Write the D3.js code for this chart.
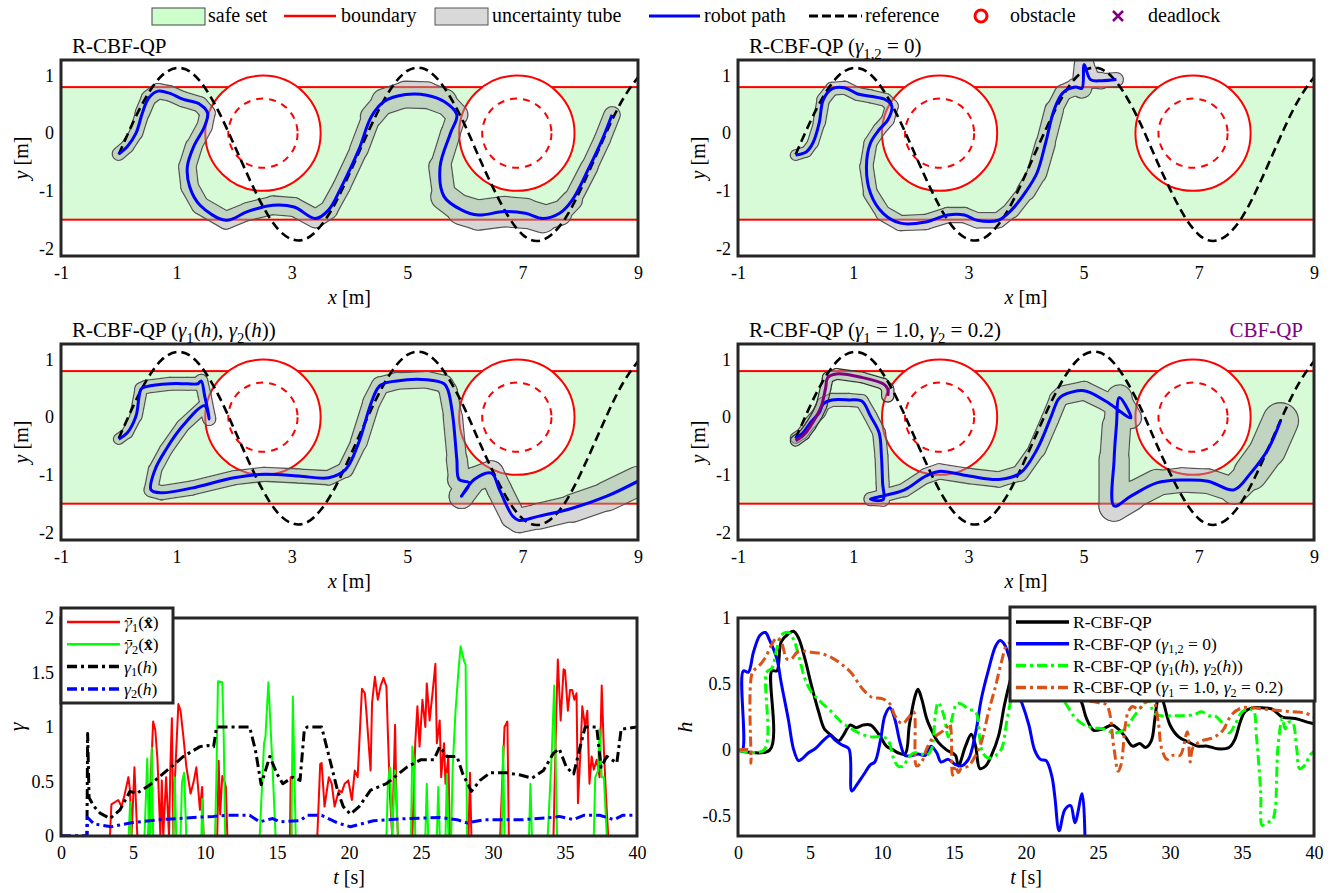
<!DOCTYPE html>
<html><head><meta charset="utf-8">
<script src="https://cdn.jsdelivr.net/npm/d3@7"></script>
<style>body{margin:0;background:#fff}svg{display:block}</style>
</head><body><script>
// ---------------- DATA ----------------
const xTicks = [-1, 1, 3, 5, 7, 9];
const yTicks = [-2, -1, 0, 1];
const tTicks = [0, 5, 10, 15, 20, 25, 30, 35, 40];
const gTicks = [0, 0.5, 1, 1.5, 2];
const hTicks = [-0.5, 0, 0.5, 1];
const safeX = [-1, 9];
const safeY = [-1.5, 0.8];
const obstacles = [[2.5, 0], [6.9, 0]];
const obstacleR = 1.0;
const obstacleInnerR = 0.6;

const refX = [0,0.25,0.5,0.75,1,1.25,1.5,1.75,2,2.25,2.5,2.75,3,3.25,3.5,3.75,4,4.25,4.5,4.75,5,5.25,5.5,5.75,6,6.25,6.5,6.75,7,7.25,7.5,7.75,8,8.25,8.5,8.75,9];
const refY = [-0.37,0.19,0.67,1.0,1.13,1.06,0.78,0.34,-0.2,-0.76,-1.27,-1.65,-1.84,-1.83,-1.61,-1.22,-0.7,-0.14,0.39,0.82,1.08,1.13,0.97,0.62,0.14,-0.43,-0.97,-1.44,-1.76,-1.87,-1.76,-1.46,-0.99,-0.44,0.12,0.61,0.97];

const path1 = [[0,-0.36],[0.15,-0.23],[0.3,0],[0.41,0.35],[0.52,0.61],[0.68,0.73],[0.89,0.69],[1.11,0.59],[1.41,0.5],[1.54,0.35],[1.49,0.12],[1.3,-0.23],[1.19,-0.58],[1.23,-0.93],[1.41,-1.25],[1.86,-1.51],[2.23,-1.36],[2.67,-1.25],[3.04,-1.28],[3.41,-1.48],[3.64,-1.33],[3.86,-0.93],[4.16,-0.29],[4.38,0.29],[4.6,0.55],[4.97,0.67],[5.34,0.66],[5.64,0.55],[5.86,0.32],[5.75,0],[5.57,-0.58],[5.64,-1.1],[5.94,-1.33],[6.23,-1.42],[6.68,-1.36],[7.05,-1.39],[7.35,-1.48],[7.64,-1.39],[7.86,-1.16],[8.16,-0.58],[8.38,-0.11],[8.55,0.32]];
const tube1 = [0.1,0.1,0.1,0.11,0.12,0.12,0.12,0.12,0.12,0.12,0.12,0.13,0.14,0.14,0.14,0.14,0.14,0.15,0.15,0.15,0.14,0.14,0.14,0.16,0.2,0.22,0.22,0.2,0.16,0.15,0.17,0.2,0.24,0.25,0.25,0.25,0.22,0.18,0.15,0.13,0.13,0.13];

const path2 = [[0,-0.38],[0.19,-0.32],[0.3,-0.17],[0.41,0.18],[0.48,0.58],[0.63,0.77],[0.85,0.79],[1.08,0.68],[1.3,0.64],[1.56,0.58],[1.67,0.47],[1.6,0.23],[1.45,0.06],[1.3,-0.17],[1.23,-0.58],[1.3,-1.04],[1.52,-1.39],[1.82,-1.56],[2.26,-1.54],[2.64,-1.42],[2.93,-1.42],[3.15,-1.51],[3.52,-1.51],[3.75,-1.33],[4,-1.01],[4.19,-0.69],[4.34,-0.17],[4.49,0.41],[4.64,0.7],[4.86,0.8],[4.97,0.78],[5.01,1.19],[5.12,0.93],[5.31,0.91],[5.57,0.93]];
const tube2 = [0.08,0.08,0.08,0.09,0.1,0.1,0.1,0.1,0.1,0.1,0.1,0.1,0.1,0.1,0.1,0.11,0.12,0.12,0.12,0.12,0.12,0.12,0.12,0.12,0.14,0.16,0.16,0.14,0.12,0.13,0.16,0.16,0.14,0.12,0.1];

const path3 = [[0,-0.38],[0.15,-0.27],[0.3,0.02],[0.39,0.49],[0.48,0.53],[0.89,0.58],[1.19,0.58],[1.37,0.58],[1.43,0.63],[1.49,0.37],[1.57,-0.03],[1.49,0.2],[1.11,-0.15],[0.82,-0.56],[0.63,-0.91],[0.56,-1.26],[0.74,-1.31],[1.26,-1.23],[2,-1.05],[2.52,-0.99],[3.12,-1.02],[3.64,-1.05],[3.93,-0.91],[4.16,-0.44],[4.38,0.26],[4.53,0.55],[4.82,0.63],[5.34,0.65],[5.64,0.58],[5.71,0.46],[5.79,0.02],[5.86,-0.73],[5.9,-1.08],[6.08,-1.14],[5.94,-1.37],[6.16,-1.08],[6.46,-0.97],[6.6,-1.26],[6.83,-1.72],[6.94,-1.79],[7.27,-1.72],[7.86,-1.58],[8.46,-1.37],[9,-1.11]];
const tube3 = [0.08,0.08,0.09,0.1,0.1,0.1,0.1,0.1,0.1,0.1,0.1,0.1,0.1,0.1,0.1,0.11,0.11,0.11,0.11,0.11,0.11,0.11,0.12,0.13,0.14,0.14,0.13,0.13,0.14,0.14,0.15,0.16,0.18,0.2,0.2,0.2,0.2,0.2,0.2,0.2,0.2,0.22,0.24,0.25];

const path4 = [[0,-0.36],[0.12,-0.28],[0.26,-0.09],[0.41,0.08],[0.48,0.23],[0.63,0.3],[0.93,0.3],[1.15,0.28],[1.3,0.02],[1.45,-0.27],[1.49,-0.67],[1.51,-1.14],[1.52,-1.43],[1.3,-1.42],[1.45,-1.38],[1.89,-1.26],[2.26,-1.02],[2.49,-0.94],[3.01,-1.02],[3.53,-1.08],[3.9,-0.97],[4.19,-0.56],[4.42,-0.03],[4.56,0.31],[4.64,0.38],[5.01,0.46],[5.38,0.28],[5.82,-0.01],[5.62,0.34],[5.57,-0.15],[5.53,-0.73],[5.53,-1.54],[5.82,-1.37],[6.27,-1.14],[6.72,-1.09],[7.16,-1.11],[7.61,-1.26],[7.9,-0.97],[8.2,-0.56],[8.42,-0.06]];
const tube4 = [0.08,0.08,0.09,0.1,0.1,0.1,0.1,0.1,0.1,0.1,0.1,0.1,0.1,0.1,0.1,0.1,0.12,0.12,0.12,0.12,0.12,0.14,0.14,0.14,0.15,0.15,0.15,0.15,0.2,0.22,0.25,0.25,0.25,0.2,0.2,0.2,0.2,0.27,0.3,0.3];

const pathCBF = [[0,-0.41],[0.15,-0.3],[0.26,-0.15],[0.38,0.05],[0.45,0.2],[0.52,0.5],[0.56,0.69],[0.71,0.75],[1.15,0.69],[1.52,0.58],[1.6,0.49],[1.6,0.37]];
const tubeCBF = [0.08,0.08,0.08,0.08,0.08,0.08,0.08,0.08,0.08,0.08,0.09,0.1];

const gam1Bar = [[0,0],[3.4,0],[3.5,0.29],[3.75,0.31],[3.98,0.33],[4.2,0.27],[4.4,0.37],[4.68,0.54],[4.79,0.42],[4.9,0],[5.1,0.63],[5.3,0],[6.06,0],[6.4,1.05],[6.55,0.97],[6.7,0.7],[6.9,0],[7,0.51],[7.1,0],[7.3,0.54],[7.5,0],[7.6,0.66],[7.7,1.08],[7.8,0],[7.9,0.49],[8.15,1.21],[8.3,1.15],[8.5,0.91],[8.7,0.64],[9,0.39],[9.2,0.49],[9.4,0.63],[9.65,0.24],[9.8,0.45],[9.9,0],[10.85,0],[10.95,0.69],[11.05,0.2],[11.2,0.55],[11.35,0.5],[11.45,0.45],[11.55,0],[15.9,0],[15.95,0.54],[16,0],[17.8,0],[18,0.66],[18.1,0.67],[18.3,0.27],[18.6,0.54],[18.8,0.48],[19,0.27],[19.3,0.42],[19.5,0.4],[19.7,0.48],[19.95,0.51],[20.2,0.33],[20.4,0.6],[20.6,0.54],[20.9,1.35],[21.1,1.31],[21.2,1.15],[21.5,0.6],[21.6,1.22],[21.8,1.46],[22,1.25],[22.2,1.38],[22.4,1.45],[22.6,1.37],[22.7,0.94],[22.85,0.36],[23,0],[23.2,1.02],[23.3,0.3],[23.4,0],[24.4,0],[24.6,0.85],[24.75,1.19],[24.9,0.82],[25.1,1.25],[25.3,1],[25.4,1.4],[25.6,1.06],[25.8,1.31],[26,1.58],[26.1,0.85],[26.3,1.06],[26.4,0.54],[26.6,0.85],[26.7,0.48],[26.9,0.73],[27,0],[28.3,0],[28.4,0.58],[28.5,0],[30.5,0],[30.6,0.36],[30.8,1],[31,1.05],[31.1,0],[34.2,0],[34.4,1.15],[34.5,1.62],[34.7,1.06],[34.9,1.53],[35,1.52],[35.2,1.15],[35.35,1.34],[35.5,1.34],[35.65,1.25],[35.8,1.31],[35.9,0.3],[36.1,0.85],[36.2,1.19],[36.4,1],[36.55,1.15],[36.7,0.48],[36.85,0.73],[37,0.61],[37.2,0.7],[37.4,0.54],[37.55,1.38],[37.7,0.79],[37.85,0.36],[38,0],[40,0]];
const gam2Bar = [[0,0],[4.7,0],[4.8,0.31],[4.9,0],[5.8,0],[5.99,0.71],[6.1,0],[6.2,0],[6.3,0.81],[6.4,0],[7.8,0],[7.9,0.54],[8,0],[8.3,0],[8.4,0.49],[8.55,0.58],[8.7,0],[9.75,0],[9.8,0.34],[9.9,0],[10.7,0],[10.8,0.6],[10.9,1.42],[11.2,1.41],[11.3,0.91],[11.4,0],[13.8,0],[13.9,0.29],[14.1,0.85],[14.2,0.91],[14.4,1.41],[14.5,1.15],[14.7,0.6],[14.9,0],[16,0],[16.1,1.28],[16.3,0],[22.6,0],[22.7,0.48],[22.85,0.63],[23,0],[23.2,0.6],[23.4,0],[24.3,0],[24.4,0.82],[24.5,0.7],[24.6,0],[25.3,0],[25.4,0.48],[25.5,0],[26.1,0],[26.2,0.45],[26.3,0],[26.7,0],[26.8,0.57],[26.9,0],[27.1,0],[27.2,0.63],[27.4,1.15],[27.6,1.51],[27.75,1.74],[28,1.6],[28.1,1.57],[28.2,0],[30.6,0],[30.7,0.82],[30.8,0],[32.5,0],[32.6,0.48],[32.7,0],[33.8,0],[34.1,0.82],[34.25,1.38],[34.45,0],[37,0],[37.1,0.54],[37.3,0.6],[37.4,0.98],[37.55,0.54],[37.7,0.54],[37.9,0],[40,0]];
const gam1H = [[0,0],[1.8,0],[1.85,0.94],[1.95,0.35],[2.3,0.27],[2.71,0.21],[3.4,0.16],[4.1,0.24],[4.79,0.41],[5.25,0.39],[6.18,0.47],[7.34,0.6],[8.5,0.73],[9.65,0.82],[10.2,0.83],[10.6,0.82],[10.8,1],[13.1,1],[13.5,0.79],[13.9,0.47],[14.5,0.73],[15,0.57],[15.4,0.48],[16.1,0.54],[16.6,0.51],[16.9,0.98],[17.1,1],[18.1,1],[18.5,0.79],[19.2,0.42],[19.6,0.27],[20.1,0.2],[20.7,0.27],[21.5,0.42],[22.6,0.48],[24,0.63],[25,0.7],[25.9,0.7],[26.3,0.82],[26.8,0.73],[27.5,0.73],[27.9,0.57],[28.5,0.41],[29.1,0.51],[29.8,0.58],[30.9,0.58],[31.9,0.56],[32.7,0.53],[33.5,0.6],[34.2,0.76],[34.6,0.8],[35.1,0.63],[35.6,0.57],[36,0.79],[36.4,1],[37.2,1],[37.5,0.63],[37.9,0.73],[38.6,0.67],[38.9,0.98],[40,1]];
const gam2H = [[0,0],[1.8,0],[1.85,0.17],[2.3,0.11],[3.5,0.085],[4.8,0.12],[6.9,0.15],[9.2,0.17],[10.6,0.18],[11.5,0.19],[13.1,0.19],[13.8,0.13],[14.7,0.16],[15.2,0.13],[16.6,0.14],[17.1,0.19],[18.1,0.19],[19.2,0.12],[20.1,0.085],[21.7,0.14],[24,0.16],[26.3,0.17],[27.5,0.15],[28.2,0.12],[29.4,0.15],[32.1,0.15],[34.2,0.17],[34.6,0.18],[35.6,0.15],[36.3,0.19],[37.4,0.19],[38.4,0.15],[39,0.19],[40,0.19]];

const hRCBF = [[0,0],[2.2,0],[2.35,0.6],[2.7,0.6],[3,0.82],[3.5,0.88],[3.85,0.9],[4.2,0.85],[4.65,0.69],[5.1,0.49],[5.6,0.29],[6,0.16],[6.5,0.11],[7,0.07],[7.3,0.11],[7.8,0.19],[8.2,0.17],[8.7,0.19],[9.2,0.19],[9.5,0.16],[9.9,0.1],[10.3,0.03],[10.8,0],[11.1,-0.02],[11.6,-0.03],[11.9,0.19],[12.3,0.41],[12.5,0.46],[12.75,0.39],[13.1,0.24],[13.4,0.16],[13.9,0.06],[14.5,0],[15.1,-0.04],[15.3,-0.12],[15.8,0.03],[16.2,0.12],[16.5,0.03],[16.8,-0.14],[17.2,-0.12],[17.6,-0.04],[18.1,0.11],[18.5,0.34],[19,0.57],[19.5,0.77],[20,0.85],[20.6,0.8],[21.5,0.7],[22.5,0.6],[23.3,0.5],[23.9,0.35],[24.2,0.24],[24.7,0.15],[25.3,0.16],[26,0.19],[26.4,0.16],[26.9,0.1],[27.4,0.03],[27.9,0.05],[28.3,0.02],[28.7,0.07],[28.95,0.24],[29.1,0.36],[29.3,0.45],[29.6,0.34],[30,0.19],[30.6,0.1],[31.3,0.06],[31.9,0.03],[32.6,0.03],[33.3,0.01],[34.1,0.02],[34.5,0.08],[34.9,0.22],[35.2,0.29],[35.7,0.32],[36.4,0.32],[37.1,0.31],[37.8,0.25],[38.7,0.24],[39.6,0.21],[40,0.2]];
const hZero = [[0,0],[0.3,0],[0.37,0.6],[0.72,0.59],[1.07,0.74],[1.53,0.87],[1.9,0.89],[2.2,0.83],[2.7,0.69],[3,0.51],[3.5,0.23],[3.85,0.01],[4.2,-0.08],[4.4,-0.07],[4.9,-0.02],[5.35,0.01],[5.9,0.07],[6.4,0.11],[6.7,0.08],[7.2,0.04],[7.7,0.01],[7.9,-0.31],[8.2,-0.27],[8.7,-0.19],[9.2,-0.11],[9.5,-0.09],[9.9,0.08],[10.2,0.26],[10.55,0.32],[10.9,0.23],[11.25,0.06],[11.6,-0.04],[12.1,-0.04],[12.5,-0.03],[13,-0.04],[13.4,0.03],[13.8,-0.02],[14.1,-0.09],[14.6,-0.07],[15.1,-0.11],[15.5,-0.12],[16,-0.07],[16.5,0.13],[16.9,0.39],[17.4,0.61],[17.9,0.79],[18.2,0.83],[18.5,0.8],[19,0.64],[19.5,0.41],[19.7,0.36],[20.2,0.19],[20.6,0],[21,-0.07],[21.4,-0.08],[21.8,-0.2],[22,-0.35],[22.3,-0.61],[22.7,-0.45],[23.1,-0.42],[23.4,-0.55],[23.9,-0.33],[24.1,-0.7]];
const hGamH = [[0,0],[1.8,0],[1.99,0.59],[2.35,0.62],[2.7,0.77],[3,0.87],[3.5,0.89],[3.85,0.84],[4.2,0.72],[4.65,0.54],[5.1,0.44],[5.8,0.36],[6.5,0.29],[7.2,0.21],[7.9,0.16],[8.6,0.12],[9.3,0.1],[10,0.1],[10.4,0.08],[10.8,-0.06],[11.1,-0.12],[11.5,-0.12],[11.8,-0.06],[12.3,-0.02],[12.75,-0.03],[13.1,-0.04],[13.45,0.01],[13.7,0.26],[13.9,0.36],[14.3,0.26],[14.6,0.1],[14.8,0.21],[15.2,0.35],[15.5,0.35],[16,0.31],[16.5,0.29],[16.8,0.08],[17,-0.02],[17.4,-0.06],[17.9,-0.04],[18.3,0.01],[18.7,0.24],[19,0.39],[19.5,0.5],[20.2,0.55],[21,0.5],[22,0.42],[22.7,0.36],[23.3,0.26],[23.9,0.2],[24.6,0.17],[25.4,0.16],[26.1,0.13],[26.9,0.16],[27.4,0.24],[28.1,0.34],[28.5,0.38],[28.9,0.28],[29.4,0.26],[30.1,0.26],[30.8,0.26],[31.7,0.27],[32.2,0.29],[32.7,0.26],[33.1,0.26],[33.6,0.21],[34.1,0.13],[34.5,0.19],[35,0.29],[35.5,0.31],[35.8,0.3],[36,0.11],[36.3,-0.32],[36.4,-0.57],[36.7,-0.55],[37.1,-0.53],[37.3,-0.45],[37.5,0.03],[37.8,0.24],[38,0.16],[38.2,0.21],[38.5,0.21],[38.8,0.01],[39,-0.14],[39.4,-0.11],[39.7,-0.04],[40,-0.01]];
const hFixed = [[0,0],[0.8,0],[0.9,-0.1],[1,0.59],[1.4,0.63],[1.9,0.7],[2.3,0.79],[2.7,0.85],[3,0.82],[3.4,0.69],[3.7,0.69],[4.1,0.74],[4.5,0.75],[5.1,0.74],[5.8,0.73],[6.5,0.7],[7.2,0.65],[7.9,0.58],[8.6,0.47],[9.3,0.4],[10,0.39],[10.55,0.35],[10.9,0.26],[11.4,0.2],[11.8,0.24],[12.2,0.29],[12.4,-0.12],[12.75,-0.09],[13.1,0.01],[13.45,0.08],[13.9,0.12],[14.4,0.16],[14.7,0.2],[14.9,-0.19],[15.1,-0.12],[15.3,-0.17],[15.5,-0.14],[16,-0.12],[16.5,-0.04],[16.9,0.06],[17.4,0.29],[17.9,0.49],[18.3,0.67],[18.7,0.8],[19.2,0.82],[20,0.75],[21,0.62],[22,0.5],[23,0.42],[24,0.38],[25,0.36],[25.6,0.34],[26.1,0.02],[26.4,-0.16],[26.6,-0.11],[26.9,0.19],[27.1,0.29],[27.4,0.33],[27.8,0.31],[28.3,0.36],[28.8,0.38],[29.2,0.2],[29.4,0.02],[29.8,-0.07],[30.2,-0.04],[30.7,-0.04],[31.2,0.14],[31.4,-0.09],[31.6,0.02],[32.2,0.07],[32.9,0.09],[33.6,0.14],[34.3,0.27],[35,0.32],[35.7,0.32],[36.6,0.31],[37.5,0.3],[38.5,0.29],[39.4,0.28],[40,0.25]];

// ---------------- DRAWING ----------------
const W = 1340, H = 893;
const FF = 'Liberation Serif';
const FONT_TICK = 18, FONT_LAB = 20, FONT_TITLE = 21, FONT_LEG = 17.5, FONT_TOP = 20;
const GREEN = '#d6fbd6', BOXC = '#262626';
const svg = d3.select('body').append('svg').attr('width', W).attr('height', H);
const defs = svg.append('defs');

function rich(sel, parts, size, subShift) {
  const sh = (subShift || 0.28) * size;
  let shift = 0;
  parts.forEach(([s, st]) => {
    const ts = sel.append('tspan').text(s);
    if (st.includes('i')) ts.attr('font-style', 'italic');
    if (st.includes('b')) ts.attr('font-weight', 'bold');
    if (st.includes('f')) ts.style('font-family', 'FreeSerif');
    if (st.includes('s')) {
      ts.attr('font-size', size * 0.7).attr('dy', sh - shift);
      shift = sh;
    } else if (shift) { ts.attr('dy', -shift); shift = 0; }
  });
  return sel;
}
function addText(x, y, parts, size, opts = {}) {
  const t = svg.append('text').attr('x', x).attr('y', y).attr('font-size', size)
    .style('font-family', FF).attr('fill', opts.fill || '#000');
  if (opts.anchor) t.attr('text-anchor', opts.anchor);
  if (opts.rotate) t.attr('transform', `rotate(-90,${x},${y})`);
  return rich(t, parts, size, opts.subShift);
}

function styleAxis(g, size) {
  g.attr('font-family', null).style('font-family', FF);
  g.select('.domain').remove();
  g.selectAll('text').attr('font-size', size).style('font-family', FF).attr('fill', '#000');
}

let maskCount = 0;
function drawTube(g, xs, ys, pts, R, edge) {
  const k = xs(1) - xs(0);
  const segs = d3.range(pts.length - 1).map(i => ({
    x1: xs(pts[i][0]), y1: ys(pts[i][1]), x2: xs(pts[i + 1][0]), y2: ys(pts[i + 1][1]),
    r: (R[i] + R[i + 1]) / 2 * k
  }));
  const id = 'tm' + (maskCount++);
  const m = defs.append('mask').attr('id', id).attr('maskUnits', 'userSpaceOnUse')
    .attr('x', 0).attr('y', 0).attr('width', W).attr('height', H);
  m.append('rect').attr('width', W).attr('height', H).attr('fill', '#fff');
  const seg = (sel, col, wAdd) => sel.selectAll('line').data(segs).join('line')
    .attr('x1', d => d.x1).attr('y1', d => d.y1).attr('x2', d => d.x2).attr('y2', d => d.y2)
    .attr('stroke', col).attr('stroke-width', d => 2 * d.r + wAdd).attr('stroke-linecap', 'round');
  seg(m, '#000', 0);
  seg(g.append('g').attr('mask', `url(#${id})`), edge, 2.6);
  seg(g.append('g').attr('opacity', 0.46), '#a8a8a8', 0);
}

const xDom = [-1, 9], yDom = [-2.13, 1.27];
function trajPanel(P, id, cfg) {
  const xs = d3.scaleLinear().domain(xDom).range([P.x0, P.x1]);
  const ys = d3.scaleLinear().domain(yDom).range([P.y1, P.y0]);
  defs.append('clipPath').attr('id', 'clip' + id).append('rect')
    .attr('x', P.x0).attr('y', P.y0).attr('width', P.x1 - P.x0).attr('height', P.y1 - P.y0);
  const g = svg.append('g').attr('clip-path', `url(#clip${id})`);
  g.append('rect').attr('x', P.x0).attr('y', P.y0).attr('width', P.x1 - P.x0).attr('height', P.y1 - P.y0).attr('fill', '#fff');
  g.append('rect').attr('x', xs(safeX[0])).attr('y', ys(safeY[1]))
    .attr('width', xs(safeX[1]) - xs(safeX[0])).attr('height', ys(safeY[0]) - ys(safeY[1]))
    .attr('fill', GREEN).attr('stroke', '#ff0000').attr('stroke-width', 2);
  obstacles.forEach(o => {
    g.append('ellipse').attr('cx', xs(o[0])).attr('cy', ys(o[1]))
      .attr('rx', xs(obstacleR) - xs(0)).attr('ry', ys(0) - ys(obstacleR))
      .attr('fill', '#fff').attr('stroke', '#ff0000').attr('stroke-width', 2);
    g.append('ellipse').attr('cx', xs(o[0])).attr('cy', ys(o[1]))
      .attr('rx', xs(obstacleInnerR) - xs(0)).attr('ry', ys(0) - ys(obstacleInnerR))
      .attr('fill', 'none').attr('stroke', '#ff0000').attr('stroke-width', 2).attr('stroke-dasharray', '7,6');
  });
  cfg.paths.forEach(p => drawTube(g, xs, ys, p.pts, p.tube, p.edge));
  const line = d3.line().x(d => xs(d[0])).y(d => ys(d[1]));
  g.append('path').attr('d', line.curve(d3.curveNatural)(refX.map((x, i) => [x, refY[i]])))
    .attr('fill', 'none').attr('stroke', '#000').attr('stroke-width', 2.6).attr('stroke-dasharray', '9,5');
  cfg.paths.forEach(p => {
    g.append('path').attr('d', d3.line().x(d => xs(d[0])).y(d => ys(d[1])).curve(d3.curveCatmullRom.alpha(0.5))(p.pts))
      .attr('fill', 'none').attr('stroke', p.color).attr('stroke-width', 3).attr('stroke-linejoin', 'round');
  });
  svg.append('rect').attr('x', P.x0).attr('y', P.y0).attr('width', P.x1 - P.x0).attr('height', P.y1 - P.y0)
    .attr('fill', 'none').attr('stroke', BOXC).attr('stroke-width', 3);
  styleAxis(svg.append('g').attr('transform', `translate(0,${P.y1})`)
    .call(d3.axisBottom(xs).tickValues(xTicks).tickSize(0).tickPadding(10).tickFormat(d => String(d))), FONT_TICK);
  styleAxis(svg.append('g').attr('transform', `translate(${P.x0},0)`)
    .call(d3.axisLeft(ys).tickValues(yTicks).tickSize(0).tickPadding(7).tickFormat(d => String(d))), FONT_TICK);
  addText((P.x0 + P.x1) / 2, P.y1 + 48, [['x', 'i'], [' [m]', '']], FONT_LAB, { anchor: 'middle' });
  addText(P.x0 - 33, (P.y0 + P.y1) / 2, [['y', 'i'], [' [m]', '']], FONT_LAB, { anchor: 'middle', rotate: true });
  addText(P.x0 + 11, P.y0 - 7, cfg.title, FONT_TITLE);
}

const tubeEdge = '#555555';
const P1 = { x0: 61, x1: 638, y0: 60, y1: 256 };
const P2 = { x0: 738, x1: 1314, y0: 60, y1: 256 };
const P3 = { x0: 61, x1: 638, y0: 344, y1: 540 };
const P4 = { x0: 738, x1: 1314, y0: 344, y1: 540 };
trajPanel(P1, 1, { title: [['R-CBF-QP', '']], paths: [{ pts: path1, tube: tube1, color: '#0000ff', edge: tubeEdge }] });
trajPanel(P2, 2, { title: [['R-CBF-QP (', ''], ['γ', 'i'], ['1,2', 's'], [' = 0)', '']], paths: [{ pts: path2, tube: tube2, color: '#0000ff', edge: tubeEdge }] });
trajPanel(P3, 3, { title: [['R-CBF-QP (', ''], ['γ', 'i'], ['1', 's'], ['(', ''], ['h', 'i'], ['), ', ''], ['γ', 'i'], ['2', 's'], ['(', ''], ['h', 'i'], ['))', '']], paths: [{ pts: path3, tube: tube3, color: '#0000ff', edge: tubeEdge }] });
trajPanel(P4, 4, { title: [['R-CBF-QP (', ''], ['γ', 'i'], ['1', 's'], [' = 1.0, ', ''], ['γ', 'i'], ['2', 's'], [' = 0.2)', '']],
  paths: [{ pts: path4, tube: tube4, color: '#0000ff', edge: tubeEdge }, { pts: pathCBF, tube: tubeCBF, color: '#800080', edge: '#333333' }] });
addText(1303, 337, [['CBF-QP', '']], FONT_TITLE, { anchor: 'end', fill: '#800080' });

// ---- time panels ----
function timePanel(P, id, yD, yT, series, ylab, ylabDx, legend) {
  const xs = d3.scaleLinear().domain([0, 40]).range([P.x0, P.x1]);
  const ys = d3.scaleLinear().domain(yD).range([P.y1, P.y0]);
  defs.append('clipPath').attr('id', 'clip' + id).append('rect')
    .attr('x', P.x0).attr('y', P.y0).attr('width', P.x1 - P.x0).attr('height', P.y1 - P.y0);
  const g = svg.append('g').attr('clip-path', `url(#clip${id})`);
  series.forEach(s => {
    g.append('path').attr('d', d3.line().x(d => xs(d[0])).y(d => ys(d[1])).curve(s.curve || d3.curveLinear)(s.data))
      .attr('fill', 'none').attr('stroke', s.color).attr('stroke-width', s.w).attr('stroke-dasharray', s.dash || null)
      .attr('stroke-linejoin', 'round');
  });
  svg.append('rect').attr('x', P.x0).attr('y', P.y0).attr('width', P.x1 - P.x0).attr('height', P.y1 - P.y0)
    .attr('fill', 'none').attr('stroke', BOXC).attr('stroke-width', 3);
  styleAxis(svg.append('g').attr('transform', `translate(0,${P.y1})`)
    .call(d3.axisBottom(xs).tickValues(tTicks).tickSize(0).tickPadding(10).tickFormat(d => String(d))), FONT_TICK);
  styleAxis(svg.append('g').attr('transform', `translate(${P.x0},0)`)
    .call(d3.axisLeft(ys).tickValues(yT).tickSize(0).tickPadding(7).tickFormat(d => String(d))), FONT_TICK);
  addText((P.x0 + P.x1) / 2, P.y1 + 48, [['t', 'i'], [' [s]', '']], FONT_LAB, { anchor: 'middle' });
  addText(P.x0 - ylabDx, (P.y0 + P.y1) / 2, ylab, FONT_LAB + 2, { anchor: 'middle', rotate: true });
  const L = legend;
  svg.append('rect').attr('x', L.x).attr('y', L.y).attr('width', L.w).attr('height', L.h)
    .attr('fill', '#fff').attr('stroke', BOXC).attr('stroke-width', 3);
  L.items.forEach((it, i) => {
    const y = L.y + L.first + i * L.step;
    svg.append('line').attr('x1', L.x + 6).attr('x2', L.x + 59).attr('y1', y).attr('y2', y)
      .attr('stroke', series[i].color).attr('stroke-width', series[i].w + 0.5).attr('stroke-dasharray', series[i].dash || null);
    addText(L.x + 63, y + 6, it, FONT_LEG, { subShift: 0.2 });
  });
}
const B1 = { x0: 61, x1: 637, y0: 618, y1: 836 };
const B2 = { x0: 738, x1: 1314, y0: 618, y1: 836 };
const DD = '10,4,3,4';
timePanel(B1, 5, [0, 2], gTicks, [
  { data: gam1Bar, color: '#ff0000', w: 2 },
  { data: gam2Bar, color: '#00ff00', w: 2 },
  { data: gam1H, color: '#000000', w: 3, dash: DD },
  { data: gam2H, color: '#0000ff', w: 3, dash: DD }
], [['γ', 'i']], 37, {
  x: 61, y: 608, w: 112, h: 95, first: 14, step: 22.3,
  items: [
    [['γ\u0304', 'if'], ['1', 's'], ['(', ''], ['x\u0302', 'b'], [')', '']],
    [['γ\u0304', 'if'], ['2', 's'], ['(', ''], ['x\u0302', 'b'], [')', '']],
    [['γ', 'i'], ['1', 's'], ['(', ''], ['h', 'i'], [')', '']],
    [['γ', 'i'], ['2', 's'], ['(', ''], ['h', 'i'], [')', '']]
  ]
});
timePanel(B2, 6, [-0.65, 1], hTicks, [
  { data: hRCBF, color: '#000000', w: 3, curve: d3.curveCatmullRom },
  { data: hZero, color: '#0000ff', w: 3, curve: d3.curveCatmullRom },
  { data: hGamH, color: '#00ff00', w: 3, dash: DD, curve: d3.curveCatmullRom },
  { data: hFixed, color: '#d95319', w: 3, dash: DD, curve: d3.curveCatmullRom }
], [['h', 'i']], 46, {
  x: 1010, y: 607, w: 305, h: 94, first: 15, step: 21.8,
  items: [
    [['R-CBF-QP', '']],
    [['R-CBF-QP (', ''], ['γ', 'i'], ['1,2', 's'], [' = 0)', '']],
    [['R-CBF-QP (', ''], ['γ', 'i'], ['1', 's'], ['(', ''], ['h', 'i'], ['), ', ''], ['γ', 'i'], ['2', 's'], ['(', ''], ['h', 'i'], ['))', '']],
    [['R-CBF-QP (', ''], ['γ', 'i'], ['1', 's'], [' = 1.0, ', ''], ['γ', 'i'], ['2', 's'], [' = 0.2)', '']]
  ]
});

// ---- top legend ----
const LY = 16;
svg.append('rect').attr('x', 152).attr('y', 8).attr('width', 53).attr('height', 17).attr('fill', '#ccffcc').attr('stroke', '#444').attr('stroke-width', 1);
addText(208, LY + 6, [['safe set', '']], FONT_TOP);
svg.append('line').attr('x1', 284).attr('x2', 336).attr('y1', LY).attr('y2', LY).attr('stroke', '#ff0000').attr('stroke-width', 2.5);
addText(341, LY + 6, [['boundary', '']], FONT_TOP);
svg.append('rect').attr('x', 435).attr('y', 8).attr('width', 53).attr('height', 17).attr('fill', '#d9d9d9').attr('stroke', '#555').attr('stroke-width', 1);
addText(492, LY + 6, [['uncertainty tube', '']], FONT_TOP);
svg.append('line').attr('x1', 649).attr('x2', 700).attr('y1', LY).attr('y2', LY).attr('stroke', '#0000ff').attr('stroke-width', 3);
addText(704, LY + 6, [['robot path', '']], FONT_TOP);
svg.append('line').attr('x1', 809).attr('x2', 862).attr('y1', LY).attr('y2', LY).attr('stroke', '#000').attr('stroke-width', 3).attr('stroke-dasharray', '9,4');
addText(865, LY + 6, [['reference', '']], FONT_TOP);
svg.append('circle').attr('cx', 981).attr('cy', LY).attr('r', 6).attr('fill', 'none').attr('stroke', '#ff0000').attr('stroke-width', 3);
addText(1010, LY + 6, [['obstacle', '']], FONT_TOP);
svg.append('path').attr('d', `M1113,${LY - 5}L1123,${LY + 5}M1113,${LY + 5}L1123,${LY - 5}`).attr('stroke', '#800080').attr('stroke-width', 2.5);
addText(1148, LY + 6, [['deadlock', '']], FONT_TOP);
</script></body></html>
